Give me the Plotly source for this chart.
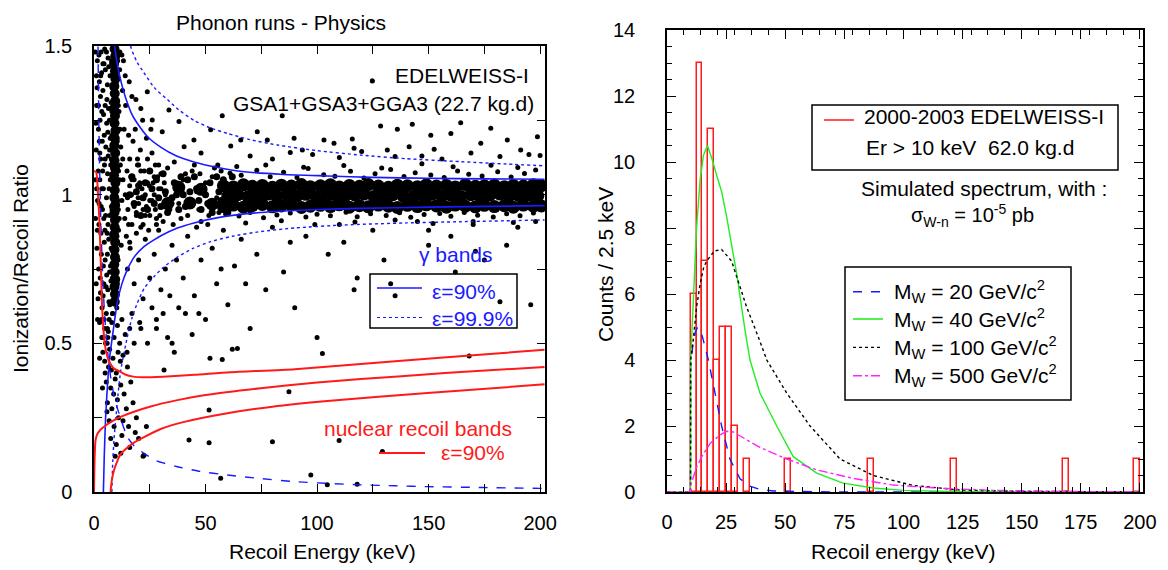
import plotly.graph_objects as go

# the page adds an 8 px body margin: positions below are given in reference pixels
OFF = 8
W, H = 1160, 562
def px(x): return (x - OFF) / W
def py(y): return 1 - (y - OFF) / H

FONT = "Liberation Sans, Arial, Helvetica, sans-serif"
BLUE = "#1a1aff"
RED = "#ff1a1a"
GREEN = "#22ee22"
MAGENTA = "#ff22ff"

# ================= LEFT PANEL DATA (Recoil energy keV, Q ratio) =================
stripe_dense = [(9.2,1.49),(9.5,1.465),(9.0,1.44),(9.4,1.415),(9.6,1.39),(9.1,1.365),(9.3,1.34),(9.5,1.315),
    (9.0,1.29),(9.4,1.265),(9.2,1.24),(9.6,1.215),(9.3,1.19),(9.1,1.165),(9.5,1.14),(9.2,1.115),(9.4,1.09),
    (9.0,1.065),(9.6,1.04),(9.3,1.015),(9.1,0.99),(9.5,0.965),(9.2,0.94),(9.4,0.915),(9.3,0.89),(9.0,0.865),
    (9.5,0.84),(9.2,0.815),(9.4,0.79),(9.1,0.765),(9.3,0.74),(9.5,0.715),(9.2,0.69),(9.4,0.665),(9.3,0.64)]
band_dense = [(58,0.96),(62.5,0.965),(67,0.958),(71,0.963),(75.5,0.967),(80,0.959),(84,0.962),(88.5,0.966),
    (93,0.957),(97,0.961),(101.5,0.964),(106,0.96),(110,0.966),(114.5,0.958),(119,0.963),(123,0.959),
    (127.5,0.965),(132,0.961),(136,0.957),(140.5,0.964),(145,0.96),(149,0.966),(153.5,0.962),(158,0.958),
    (162,0.965),(166.5,0.961),(171,0.959),(175,0.964),(179.5,0.96),(184,0.963),(188,0.958),(192.5,0.965),
    (197,0.961),(200.5,0.962),
    (60,0.995),(64.5,1.0),(69,0.993),(73.5,0.998),(78,1.002),(82,0.994),(86.5,0.999),(91,0.996),(95,1.001),
    (99.5,0.993),(104,0.997),(108,1.0),(112.5,0.995),(117,0.998),(121,1.002),(125.5,0.994),(130,0.997),
    (134,1.0),(138.5,0.996),(143,0.993),(147,0.999),(151.5,1.001),(156,0.995),(160,0.998),(164.5,0.994),
    (169,1.0),(173,0.996),(177.5,0.999),(182,1.002),(186,0.995),(190.5,0.997),(195,1.0),(199,0.996),
    (58,1.03),(62.5,1.026),(67,1.033),(71,1.028),(75.5,1.031),(80,1.025),(84,1.032),(88.5,1.029),(93,1.034),
    (97,1.027),(101.5,1.03),(106,1.033),(110,1.026),(114.5,1.031),(119,1.028),(123,1.034),(127.5,1.029),
    (132,1.025),(136,1.032),(140.5,1.03),(145,1.027),(149,1.033),(153.5,1.029),(158,1.031),(162,1.026),
    (166.5,1.034),(171,1.028),(175,1.03),(179.5,1.032),(184,1.027),(188,1.031),(192.5,1.029),(197,1.033),
    (200.5,1.03),
    (33,0.97),(43,0.972),(53,0.968),(38,1.025),(48,1.018)]
band_mid = [(16,1.0),(18,0.97),(20,1.03),(22,0.99),(24,0.95),(26,1.02),(28,1.05),(30,0.96),(32,1.01),
    (34,0.98),(36,1.04),(38,0.95),(40,1.0),(42,1.05),(44,0.97),(46,1.02),(48,0.95),(50,1.0),(52,1.04),
    (54,0.97),(56,1.01),(58,1.05),(17,1.06),(21,0.93),(25,1.08),(29,0.99),(33,0.94),(37,1.0),(41,0.96),
    (45,1.06),(49,1.02),(53,0.94),(57,0.98),(23,1.04),(27,0.97),(31,1.07),(35,0.99),(39,1.06),(43,1.01),
    (47,0.98),(51,0.97),(55,1.06),(19,1.01),(60,0.94),(62,1.06)]

left_cloud = [(1.5,1.45),(3.2,1.48),(5.1,1.42),(2.4,1.38),(6.3,1.46),(4.0,1.35),(7.2,1.40),(1.2,1.30),
    (3.5,1.28),(5.8,1.32),(2.0,1.22),(6.9,1.25),(4.6,1.20),(1.0,1.15),(3.0,1.12),(5.3,1.16),(7.5,1.10),
    (2.6,1.05),(4.2,1.02),(6.1,1.07),(1.6,0.98),(3.8,0.95),(5.6,0.99),(7.0,0.93),(2.2,0.90),(4.9,0.88),
    (6.6,0.85),(1.3,0.82),(3.3,0.80),(5.0,0.78),(7.4,0.76),(2.8,0.72),(4.4,0.70),(6.2,0.68),(1.8,0.65),
    (3.6,0.62),(5.5,0.60),(7.1,0.63),(2.5,0.57),(4.8,0.55),(6.8,0.58),(3.9,0.52),(5.9,0.50),(1.1,1.40),
    (2.9,1.33),(4.5,1.44),(6.0,1.37),(7.7,1.31),(3.7,1.18),(5.7,1.24),(7.3,1.19),(1.9,1.08),(4.7,1.10),
    (6.4,1.13),(2.3,0.97),(5.2,0.93),(7.8,0.96),(3.1,0.87),(6.0,0.80),(7.6,0.71),(4.1,0.66),(2.1,0.75),
    (5.4,0.69),(6.7,0.64),(0.8,1.05),(0.7,0.92),(2.7,1.25),(4.3,1.27),(6.5,1.29),(7.9,1.45),(3.4,1.41),
    (5.6,1.48),(0.6,1.48),(1.4,1.36),(2.2,1.47),(3.0,1.40),(4.8,1.49),(6.6,1.43),(8.1,1.36),(0.9,1.24),
    (2.4,1.18),(3.9,1.08),(5.0,1.12),(6.8,1.02),(8.0,1.20),(1.5,0.88),(3.2,0.96),(4.6,0.84),(6.3,0.90),
    (8.2,0.87),(1.0,0.70),(2.9,0.67),(4.2,0.76),(5.7,0.73),(7.9,0.82),(1.6,0.58),(3.4,0.58),(6.4,0.54),
    (8.3,0.60),(7.0,1.15),(5.0,1.30),(6.2,1.21),(2.6,1.14),(4.4,0.92),(7.3,1.05),(3.5,1.02),(5.9,0.87),
    (1.2,1.02),(2.0,1.30),(7.0,0.74),(4.0,1.44)]
stripe_edge = [(10.6,1.45),(10.9,1.30),(10.4,1.18),(11.0,1.08),(10.7,0.98),(10.3,0.86),(10.8,0.78),
    (10.5,0.70),(8.0,1.28),(7.8,1.12),(8.1,0.95),(7.7,0.82),(8.2,0.72),(10.2,0.62),(8.4,0.60),(11.3,0.92),
    (11.6,1.22),(10.1,1.38)]
low_e_cloud = [(11.5,1.42),(12.8,1.35),(11.2,1.28),(13.5,1.22),(12.0,1.16),(14.2,1.30),(15.5,1.20),
    (11.8,1.10),(13.0,1.05),(16.0,1.12),(17.5,1.18),(14.8,1.08),(12.5,0.98),(15.2,0.95),(18.0,1.05),
    (19.5,1.10),(16.8,1.00),(13.8,0.92),(11.0,0.88),(12.2,0.83),(14.5,0.86),(17.0,0.90),(20.0,0.97),
    (21.5,1.02),(22.5,1.08),(24.0,1.12),(20.8,1.15),(18.5,1.22),(23.0,0.93),(25.0,0.98),(26.5,1.04),
    (27.5,0.95),(28.5,1.06),(24.5,0.88),(21.0,0.89),(19.0,0.93),(16.2,0.82),(29.0,1.10),(26.0,1.14),
    (23.5,1.19),(11.6,1.48),(13.2,1.45),(15.8,1.38),(18.8,1.32),(21.8,1.25),(25.5,1.22),(22.0,0.95),
    (17.8,0.97),(14.0,1.00),(12.9,1.12),(10.9,0.95),(11.3,1.05),(27.0,1.00),(28.0,0.90),(30.0,1.02),
    (29.5,0.93),(20.5,1.04),(16.5,1.06),(19.8,0.99),(24.8,1.03),(12.5,1.47),(14.0,1.40),(17.0,1.33),(21.0,1.29)]
low_q_tail = [(4.5,0.58),(6.0,0.55),(8.0,0.57),(10.5,0.56),(12.5,0.58),(5.2,0.50),(7.0,0.48),(9.0,0.52),
    (11.5,0.50),(14.0,0.53),(4.8,0.44),(6.5,0.42),(8.5,0.45),(10.0,0.40),(13.0,0.46),(5.5,0.37),(7.5,0.35),
    (9.5,0.38),(12.0,0.36),(15.0,0.42),(6.0,0.30),(8.0,0.28),(10.5,0.31),(13.5,0.33),(16.5,0.37),(6.8,0.24),
    (9.0,0.22),(11.0,0.25),(14.5,0.28),(17.5,0.30),(7.5,0.18),(10.0,0.16),(12.5,0.19),(15.5,0.22),(19.0,0.25),
    (9.5,0.12),(12.0,0.13),(16.0,0.15),(20.0,0.18),(22.0,0.12),(3.5,0.52),(4.0,0.47),(5.0,0.40),(7.8,0.41),
    (11.8,0.44),(14.8,0.47),(18.0,0.50),(16.0,0.55),(20.5,0.57),(3.8,0.35),(2.5,0.45),(8.8,0.33),(13.0,0.24),
    (18.5,0.20),(23.5,0.22),(10.8,0.47),(6.2,0.52),(5.8,0.27)]
below_band = [(15,0.75),(18,0.70),(20,0.78),(22,0.65),(25,0.72),(27,0.80),(30,0.68),(32,0.75),(35,0.83),
    (38,0.62),(40,0.72),(42,0.86),(45,0.66),(48,0.78),(50,0.58),(53,0.82),(55,0.70),(58,0.88),(60,0.63),
    (63,0.76),(66,0.85),(70,0.55),(73,0.80),(77,0.68),(80,0.89),(85,0.74),(90,0.62),(95,0.86),(100,0.52),
    (105,0.80),(110,0.90),(118,0.72),(125,0.88),(135,0.66),(145,0.91),(160,0.86),(175,0.78),(190,0.89),
    (17,0.60),(21,0.55),(24,0.50),(28,0.58),(33,0.52),(36,0.47),(44,0.53),(52,0.45),(62,0.48),(16,0.84),
    (19,0.87),(23,0.85),(26,0.62),(29,0.88),(31,0.60),(34,0.66),(37,0.78),(41,0.60),(46,0.89),(57,0.75),
    (68,0.70),(88,0.84),(112,0.84),(130,0.78),(150,0.88),(170,0.90),(185,0.83),(198,0.91),
    (162,0.74),(133,0.70),(182,0.64),(171,0.81),(150,0.83)]
above_band = [(23.9,1.346),(26.1,1.251),(30.6,1.212),(52.3,1.218),(57.5,1.265),(73.2,1.212),(84.4,1.265),
    (89.7,1.19),(103.1,1.184),(115.8,1.187),(124.8,1.382),(128.5,1.231),(136,1.22),(142.7,1.237),(151,1.2),
    (160,1.206),(164.4,1.242),(177.9,1.223),(191.3,1.15),(198.8,1.195),(65.8,1.184),(44.8,1.184),(40.4,1.161),
    (61.3,1.164),(77.7,1.184),(107.6,1.173),(141.3,1.161),(173.4,1.173),(185.3,1.184),(93.4,1.15),
    (116.6,1.156),(131.5,1.15),(152.5,1.153),(33.6,1.285),(38.1,1.246),(48,1.14),(70,1.13),(98,1.135),
    (110,1.125),(120,1.145),(147,1.13),(156,1.12),(169,1.14),(182,1.128),(195,1.135),(80,1.12),(88,1.142),
    (135,1.128),(200,1.132)]
band_edges = [(61,1.072),(66,1.065),(73,1.082),(79,1.06),(85,1.075),(91,1.058),(96,1.088),(103,1.067),
    (108,1.062),(115,1.079),(121,1.056),(126,1.07),(133,1.085),(139,1.061),(144,1.074),(151,1.066),
    (157,1.058),(163,1.08),(168,1.069),(174,1.063),(181,1.077),(187,1.059),(193,1.071),(198,1.083),
    (64,1.095),(77,1.1),(94,1.092),(112,1.098),(129,1.09),(147,1.104),(161,1.094),(178,1.099),(190,1.091),
    (59,0.935),(65,0.928),(70,0.94),(76,0.922),(82,0.932),(88,0.938),(95,0.925),(100,0.934),(106,0.929),
    (113,0.941),(118,0.926),(124,0.936),(131,0.93),(137,0.939),(142,0.924),(148,0.933),(155,0.937),
    (160,0.927),(166,0.94),(172,0.931),(179,0.925),(185,0.936),(191,0.929),(197,0.938),(68,0.905),
    (84,0.912),(99,0.9),(117,0.908),(135,0.915),(152,0.903),(170,0.91),(188,0.906)]
band_low_e = [(15,0.99),(17,1.05),(19,0.94),(21,1.08),(23,1.0),(25,0.93),(27,1.06),(29,1.02),(31,0.91),
    (33,1.09),(35,0.97),(37,1.04),(39,0.92),(41,1.07),(43,0.98),(45,1.1),(47,0.95),(49,1.03),(51,0.9),
    (53,1.06),(55,0.99),(57,1.08),(16,1.03),(18,0.96),(20,1.1),(22,0.9),(24,1.04),(26,0.98),(28,0.92),
    (30,1.07),(32,1.0),(34,0.95),(36,1.11),(38,0.97),(40,1.05),(42,0.93),(44,1.08),(46,1.01),(48,0.91),
    (50,1.04),(52,0.96),(54,1.09),(56,0.94),(58,1.02),(15.5,0.9),(19.5,1.12),(23.5,0.96),(27.5,1.1),
    (31.5,1.04),(35.5,0.9),(39.5,1.01),(43.5,0.96),(47.5,1.07),(51.5,0.93),(55.5,1.1),(59,0.97)]
nr_region = [(116.6,0.68),(195.8,0.63),(102.4,0.466),(64.3,0.483),(57.5,0.446),(31.4,0.41),(87.4,0.337),
    (51.6,0.276),(42.6,0.175),(51.6,0.166),(80,0.169),(109.9,0.173),(129.3,0.136),(168.2,0.457),(97.2,0.057),
    (56.8,0.046),(104.6,0.024),(118,0.026),(22.4,0.124),(35,0.5),(28,0.55),(47,0.6)]

# ---- band curves (E, Q) ----
gamma90_up = [(8.7,1.56),(9.0,1.52),(10,1.46),(11.2,1.41),(13,1.355),(14.9,1.31),(17,1.27),(19.4,1.24),
    (24,1.195),(29.9,1.16),(37,1.13),(44.8,1.11),(55,1.092),(67.3,1.077),(85,1.068),(104.6,1.063),
    (125,1.058),(149.5,1.055),(175,1.053),(202,1.052)]
gamma90_lo = [(4.2,0),(4.6,0.12),(5.2,0.25),(6.0,0.354),(7,0.45),(8.2,0.52),(10.4,0.635),(12.5,0.7),
    (14.9,0.747),(18,0.79),(22.4,0.825),(26.9,0.848),(30,0.862),(37.4,0.888),(44.8,0.905),(55,0.922),
    (74.7,0.94),(100,0.95),(119.6,0.954),(150,0.958),(202,0.963)]
gamma999_up = [(15.5,1.56),(16.4,1.50),(19,1.45),(22.4,1.41),(27,1.36),(32.9,1.32),(38,1.285),(44.8,1.25),
    (52,1.225),(59.8,1.206),(70,1.185),(82.2,1.167),(100,1.148),(119.6,1.133),(140,1.121),(164.4,1.111),
    (185,1.103),(202,1.097)]
gamma999_lo = [(8.0,0),(8.4,0.1),(9.0,0.18),(9.7,0.242),(10.8,0.33),(12,0.41),(14.9,0.52),(17,0.585),
    (19.4,0.635),(22.5,0.685),(26.9,0.724),(31,0.755),(37.4,0.79),(44,0.818),(52.3,0.842),(62,0.86),
    (74.7,0.876),(90,0.888),(112.1,0.898),(140,0.905),(164.4,0.909),(202,0.915)]
threshold = [(1.75,1.56),(1.9,1.42),(2.1,1.28),(2.5,1.1),(3.0,0.93),(3.8,0.74),(4.8,0.59),(6.0,0.48),
    (7.5,0.385),(9.2,0.315),(11.2,0.265),(14.9,0.186),(18,0.155),(22.4,0.13),(28,0.105),(37.4,0.085),
    (47,0.07),(59.8,0.057),(75,0.045),(89.7,0.035),(105,0.029),(119.6,0.024),(135,0.021),(149.5,0.018),
    (175,0.015),(202,0.012)]
nr_up = [(0,1.08),(1.0,1.075),(1.8,1.0),(2.5,0.9),(3.0,0.78),(3.5,0.65),(4.2,0.55),(5,0.49),(6,0.455),
    (7.2,0.433),(9,0.415),(11.7,0.405),(14,0.395),(17.6,0.388),(22,0.386),(31,0.388),(45,0.394),(61,0.403),
    (90,0.413),(135,0.44),(170,0.46),(202,0.478)]
nr_mid = [(0,0),(0.3,0.12),(0.7,0.175),(1.5,0.195),(3,0.21),(6,0.228),(9,0.242),(13,0.256),(17.9,0.27),
    (25,0.287),(37.4,0.309),(50,0.326),(74.7,0.349),(100,0.368),(119.6,0.38),(150,0.396),(164.4,0.404),
    (202,0.42)]
nr_lo = [(7.4,0),(8,0.04),(9,0.074),(10.5,0.105),(12,0.128),(15,0.15),(17.9,0.166),(22,0.183),
    (29.9,0.212),(40,0.235),(59.8,0.265),(80,0.287),(104.6,0.306),(149.5,0.333),(202,0.362)]

# ================= RIGHT PANEL DATA =================
bin_centers = [11.25, 13.75, 16.25, 18.75, 21.25, 23.75, 26.25, 28.75, 33.75, 51.25, 86.25, 121.25, 168.75, 198.75]
counts = [6, 13, 7, 11, 4, 5, 5, 2, 1, 1, 1, 1, 1, 1]

w20_E = [0, 9.95, 10, 11, 12, 13, 14, 15, 17.5, 20, 23.1, 26.6, 30.9, 35, 39.3, 45, 55, 70, 200]
w20_C = [0, 0, 3.8, 4.5, 4.85, 5.0, 4.9, 4.7, 4.0, 3.1, 2.0, 1.0, 0.4, 0.18, 0.08, 0.03, 0.01, 0, 0]
w40_E = [0, 9.95, 10, 10.4, 11.1, 12.5, 14, 15.4, 17.1, 19, 21, 23.1, 25.2, 29.5, 33, 35.1, 39.3, 46.4,
         53.4, 63.3, 74.5, 87.2, 100, 120, 150, 200]
w40_C = [0, 0, 4.0, 4.6, 6.1, 8.0, 9.45, 10.2, 10.5, 10.1, 9.6, 9.1, 8.35, 6.6, 4.9, 4.0, 3.0, 2.0,
         1.07, 0.57, 0.27, 0.12, 0.05, 0.015, 0.003, 0]
w100_E = [0, 9.95, 10, 11.1, 12.5, 14, 15.5, 16.8, 20, 23.1, 27.3, 33.7, 38.6, 42.2, 50.6, 60.5, 73.2,
          87.2, 104, 124, 150, 200]
w100_C = [0, 0, 4.0, 4.6, 5.6, 6.3, 6.8, 7.0, 7.3, 7.35, 7.0, 5.6, 4.7, 4.0, 3.0, 2.0, 1.0,
          0.5, 0.2, 0.06, 0.02, 0.003]
w500_E = [0, 9.95, 10, 11, 12.5, 14.7, 18.2, 22.4, 25.2, 28, 32.3, 39.3, 50.6, 63.3, 78.8, 95.7,
          116.8, 138, 170, 200]
w500_C = [0, 0, 0.2, 0.45, 0.75, 1.07, 1.47, 1.73, 1.84, 1.82, 1.65, 1.35, 1.0, 0.67, 0.41, 0.21,
          0.11, 0.05, 0.015, 0.005]

left_x_ticks = [0, 25, 50, 75, 100, 125, 150, 175, 200]
left_x_text = ["0", "", "50", "", "100", "", "150", "", "200"]
left_y_ticks = [0, 0.25, 0.5, 0.75, 1.0, 1.25, 1.5]
left_y_text = ["0", "", "0.5", "", "1", "", "1.5"]

def unzip(pairs):
    return [p[0] for p in pairs], [p[1] for p in pairs]

fig = go.Figure()

small_groups = [left_cloud, stripe_edge, low_e_cloud, low_q_tail, below_band, above_band,
                band_edges, band_low_e, nr_region]
for g in small_groups:
    ex, qy = unzip(g)
    fig.add_trace(go.Scatter(x=ex, y=qy, mode="markers", xaxis="x", yaxis="y",
                             marker=dict(color="black", size=5), hoverinfo="skip"))
for g, s in [(band_mid, 7), (stripe_dense, 10), (band_dense, 13)]:
    ex, qy = unzip(g)
    fig.add_trace(go.Scatter(x=ex, y=qy, mode="markers", xaxis="x", yaxis="y",
                             marker=dict(color="black", size=s), hoverinfo="skip"))

curves = [(gamma90_up, BLUE, "solid", 1.6), (gamma90_lo, BLUE, "solid", 1.6),
          (gamma999_up, BLUE, "dot", 1.4), (gamma999_lo, BLUE, "dot", 1.4),
          (threshold, BLUE, "dash", 1.4),
          (nr_up, RED, "solid", 2), (nr_mid, RED, "solid", 2), (nr_lo, RED, "solid", 2)]
for c, col, dash, w in curves:
    ex, qy = unzip(c)
    fig.add_trace(go.Scatter(x=ex, y=qy, mode="lines", xaxis="x", yaxis="y",
                             line=dict(color=col, dash=dash, width=w, shape="spline", smoothing=0.6),
                             hoverinfo="skip"))

# right panel
fig.add_trace(go.Bar(x=bin_centers, y=counts, width=2.5, xaxis="x2", yaxis="y2",
                     marker=dict(color="rgba(0,0,0,0)", line=dict(color=RED, width=1.5)),
                     hoverinfo="skip"))
for ex, cy, col, dash in [(w20_E, w20_C, BLUE, "dash"), (w40_E, w40_C, GREEN, "solid"),
                          (w100_E, w100_C, "black", "dot"), (w500_E, w500_C, MAGENTA, "dashdot")]:
    fig.add_trace(go.Scatter(x=ex, y=cy, mode="lines", xaxis="x2", yaxis="y2",
                             line=dict(color=col, dash=dash, width=1.4), hoverinfo="skip"))

axis_common = dict(showline=True, linecolor="black", linewidth=1.5, mirror="allticks",
                   ticks="inside", tickcolor="black", tickwidth=1.2, showgrid=False, zeroline=False,
                   automargin=False,
                   tickfont=dict(family=FONT, size=20, color="black"))

fig.update_layout(
    width=W, height=H, margin=dict(l=0, r=0, t=0, b=0, autoexpand=False),
    paper_bgcolor="white", plot_bgcolor="white", showlegend=False, bargap=0,
    xaxis=dict(domain=[px(94), px(545)], range=[0, 202.2], anchor="y",
               tickvals=left_x_ticks, ticktext=left_x_text, ticklen=8, ticklabelstandoff=12, **axis_common),
    yaxis=dict(domain=[py(492), py(46)], range=[0, 1.5], anchor="x",
               tickvals=left_y_ticks, ticktext=left_y_text, ticklen=8, ticklabelstandoff=16, **axis_common),
    xaxis2=dict(domain=[px(667), px(1143)], range=[0, 201.3], anchor="y2", tick0=0, dtick=25,
                ticklen=9, ticklabelstandoff=11,
                minor=dict(dtick=25/3.5, ticklen=5, ticks="inside", tickcolor="black"), **axis_common),
    yaxis2=dict(domain=[py(492), py(30)], range=[0, 14], anchor="x2", tick0=0, dtick=2,
                ticklen=9, ticklabelstandoff=26,
                minor=dict(dtick=0.5, ticklen=5, ticks="inside", tickcolor="black"), **axis_common),
)

ann = []
def text(x, y, s, size=20, color="black", xanchor="center", angle=0):
    ann.append(dict(x=px(x), y=py(y), xref="paper", yref="paper", text=s, showarrow=False,
                    xanchor=xanchor, yanchor="middle", textangle=angle,
                    font=dict(family=FONT, size=size, color=color)))

text(281, 23, "Phonon runs - Physics", 21)
text(531, 75, "EDELWEISS-I", 21, xanchor="right")
text(536, 103, "GSA1+GSA3+GGA3 (22.7 kg.d)", 21, xanchor="right")
text(456, 255, "γ bands", 21, BLUE)
text(430, 291, "ε=90%", 21, BLUE, xanchor="left")
text(430, 318, "ε=99.9%", 21, BLUE, xanchor="left")
text(418, 428, "nuclear recoil bands", 21, RED)
text(439, 453, "ε=90%", 21, RED, xanchor="left")
text(20, 269, "Ionization/Recoil Ratio", 21, angle=-90)
text(322, 551, "Recoil Energy (keV)", 21)
text(903, 551, "Recoil energy (keV)", 21)
text(605, 265, "Counts / 2.5 keV", 21, angle=-90)
text(862, 116, "2000-2003 EDELWEISS-I", 21, xanchor="left")
text(864, 147, "Er > 10 keV\u00a0\u00a062.0 kg.d", 21, xanchor="left")
text(984, 188, "Simulated spectrum, with :", 21)
text(972, 216, "σ<sub>W-n</sub> = 10<sup>-5</sup> pb", 20)
for yy, m in [(291.7, "20"), (319, "40"), (347.3, "100"), (375.7, "500")]:
    text(892, yy, "M<sub>W</sub> = " + m + " GeV/c<sup>2</sup>", 21, xanchor="left")

shapes = []
def rect(x0, y0, x1, y1):
    shapes.append(dict(type="rect", xref="paper", yref="paper", x0=px(x0), x1=px(x1), y0=py(y1), y1=py(y0),
                       line=dict(color="black", width=1.5), fillcolor="rgba(0,0,0,0)"))
def seg(x0, x1, y, color, dash="solid", width=1.5):
    shapes.append(dict(type="line", xref="paper", yref="paper", x0=px(x0), x1=px(x1), y0=py(y), y1=py(y),
                       line=dict(color=color, width=width, dash=dash)))

rect(370, 274, 517, 328)
seg(377, 422, 288, BLUE, "solid", 1.6)
seg(377, 422, 317.5, BLUE, "dot", 1.2)
seg(379, 425, 453, RED, "solid", 1.8)
rect(812, 105, 1118, 170)
seg(824, 854, 120, RED, "solid", 1.5)
rect(845, 267, 1071, 400)
seg(853, 883, 291.7, BLUE, "dash", 1.4)
seg(853, 883, 319, GREEN, "solid", 1.6)
seg(853, 883, 347.3, "black", "dot", 1.2)
seg(853, 883, 375.7, MAGENTA, "dashdot", 1.4)
shapes.append(dict(type="circle", xref="paper", yref="paper", x0=px(370), x1=px(374.5), y0=py(83), y1=py(78.5),
                   fillcolor="black", line=dict(color="black", width=0)))

fig.update_layout(annotations=ann, shapes=shapes)
fig.write_html("out.html")
